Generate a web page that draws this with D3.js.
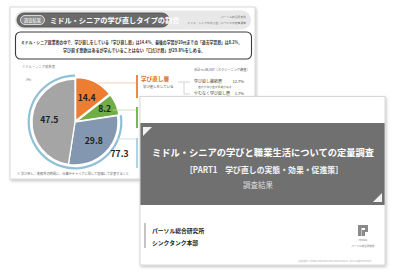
<!DOCTYPE html>
<html><head><meta charset="utf-8">
<script src="https://cdn.jsdelivr.net/npm/d3@7"></script>
<style>
html,body{margin:0;padding:0;background:#fff;}
svg{display:block;font-family:"Noto Sans CJK JP","Noto Sans",sans-serif;}
</style></head>
<body><svg id="c" width="396" height="276"></svg>
<script>
// ---- data ----
const categories = ["学び直し層", "過去学習層", "口だけ層", "非学習層"];
const values = [14.4, 8.2, 29.8, 47.5];
const ringCategories = ["口だけ層", "非学習層"];
const ringTotal = [77.3];
const subCategories = ["学び直し継続層", "やむなく学び直し層"];
const subValues = [12.7, 1.7];
const sampleNote = ["合計 n=36,537（スクリーニング調査）"];
const backTitle = ["ミドル・シニアの学び直しタイプの割合"];
const summaryLines = [
  "ミドル・シニア就業者の中で、学び直しをしている「学び直し層」は14.4%、最後の学習が20代までの「過去学習層」は8.2%。",
  "学び直す意欲はあるが学んでいることはない「口だけ層」が29.8%をしめる。"
];
const frontTitle = ["ミドル・シニアの学びと職業生活についての定量調査", "［PART1　学び直しの実態・効果・促進策］", "調査結果"];
const orgLines = ["パーソル総合研究所", "シンクタンク本部"];

const sliceColors = ["#ED7D31", "#70AD47", "#8497B0", "#A5A5A5"];

const svg = d3.select("#c");
const defs = svg.append("defs");
const f = defs.append("filter").attr("id","sh").attr("x","-10%").attr("y","-10%").attr("width","120%").attr("height","130%");
f.append("feDropShadow").attr("dx",1).attr("dy",1.5).attr("stdDeviation",1.5).attr("flood-color","#000").attr("flood-opacity",0.25);

// ---------- back slide ----------
const back = svg.append("g");
back.append("rect").attr("x",10).attr("y",7).attr("width",245).attr("height",172)
  .attr("fill","#fff").attr("stroke","#cfcfcf").attr("stroke-width",0.8).attr("filter","url(#sh)");

// header
back.append("rect").attr("x",15).attr("y",10.5).attr("width",236).attr("height",19).attr("rx",9.5).attr("fill","#e8e8e8");
back.append("rect").attr("x",17).attr("y",13).attr("width",152).attr("height",14).attr("rx",7).attr("fill","#6b6b6b").attr("stroke","#4a4a4a").attr("stroke-width",0.8);
back.append("rect").attr("x",20.5).attr("y",15.5).attr("width",24).attr("height",9).attr("rx",4.5).attr("fill","#8c8c8c").attr("stroke","#fff").attr("stroke-width",0.7);
back.append("text").attr("x",32.5).attr("y",22).attr("text-anchor","middle").attr("font-size",4.2).attr("fill","#fff").text("調査結果");
back.append("text").attr("x",50).attr("y",23).attr("font-size",7.2).attr("font-weight","bold").attr("fill","#fff").text(backTitle[0]);
back.append("text").attr("x",246).attr("y",18).attr("text-anchor","end").attr("font-size",2.8).attr("fill","#777").text("パーソル総合研究所");
back.append("text").attr("x",246).attr("y",23.5).attr("text-anchor","end").attr("font-size",2.8).attr("fill","#777").text("ミドル・シニアの学び直しについての定量調査");

// summary box
back.append("rect").attr("x",15.5).attr("y",32).attr("width",236).attr("height",27).attr("rx",5).attr("fill","#fff").attr("stroke","#3a3a3a").attr("stroke-width",1.1);
back.append("text").attr("x",21).attr("y",44).attr("font-size",4.2).attr("font-weight","bold").attr("fill","#333")
  .attr("textLength",221).attr("lengthAdjust","spacingAndGlyphs").text(summaryLines[0]);
back.append("text").attr("x",63).attr("y",52).attr("font-size",4.2).attr("font-weight","bold").attr("fill","#333")
  .attr("textLength",142).attr("lengthAdjust","spacingAndGlyphs").text(summaryLines[1]);

back.append("text").attr("x",22).attr("y",68).attr("font-size",3.3).attr("fill","#777").text("ミドル・シニア就業者");
back.append("text").attr("x",26).attr("y",81).attr("font-size",3.3).attr("fill","#666").text("(%)");

// pie
const cx = 75, cy = 122, R = 43;
const pie = d3.pie().sort(null).value(d => d)(values);
const arc = d3.arc().innerRadius(0).outerRadius(R);
const pg = back.append("g").attr("transform",`translate(${cx},${cy})`);
pg.selectAll("path.s").data(pie).join("path").attr("class","s")
  .attr("d",arc).attr("fill",(d,i)=>sliceColors[i]).attr("stroke","#fff").attr("stroke-width",1.3)
  .attr("transform",(d,i)=>{
    if(i<2){const a=(d.startAngle+d.endAngle)/2;return `translate(${Math.sin(a)*1.5},${-Math.cos(a)*1.5})`;}
    return null;});
// ring around two categories
const ringIdx = ringCategories.map(c=>categories.indexOf(c));
const ringArc = d3.arc().innerRadius(R+2.2).outerRadius(R+4.4)
  .startAngle(pie[ringIdx[0]].startAngle).endAngle(pie[ringIdx[ringIdx.length-1]].endAngle);
pg.append("path").attr("d",ringArc()).attr("fill","#8FC0D6");
// labels
const labR = [0.62, 0.75, 0.62, 0.6];
pg.selectAll("text.l").data(pie).join("text").attr("class","l")
  .attr("x",(d,i)=>d3.arc().innerRadius(R*labR[i]).outerRadius(R*labR[i]).centroid(d)[0])
  .attr("y",(d,i)=>d3.arc().innerRadius(R*labR[i]).outerRadius(R*labR[i]).centroid(d)[1]+3)
  .attr("text-anchor","middle").attr("font-size",8.6).attr("font-weight","bold").attr("fill","#222")
  .text(d=>d.data.toFixed(1));
const ringLabAngle = Math.PI*0.70;
pg.append("text").attr("x",Math.sin(ringLabAngle)*(R+12)).attr("y",-Math.cos(ringLabAngle)*(R+12)+3)
  .attr("text-anchor","middle").attr("font-size",8.6).attr("font-weight","bold").attr("fill","#222")
  .text(ringTotal[0].toFixed(1));

// brackets right of pie
const bx = 137;
const br = [
  {y:83, x0:98, top:75, bot:98, light:"#F6C7A6", col:"#ED7D31"},
  {y:110, x0:113, top:107, bot:128, light:"#BFDDAA", col:"#70AD47"},
  {y:139, x0:117, top:138, bot:168, light:"#C3DDE9", col:"#A9CEE0"}
];
br.forEach(b=>{
  back.append("line").attr("x1",b.x0).attr("x2",bx).attr("y1",b.y).attr("y2",b.y).attr("stroke",b.light).attr("stroke-width",0.8);
  back.append("line").attr("x1",bx).attr("x2",bx).attr("y1",b.top).attr("y2",b.bot).attr("stroke",b.col).attr("stroke-width",1.8);
});
back.append("text").attr("x",141).attr("y",81).attr("font-size",5.6).attr("font-weight","bold").attr("fill","#E36C1A").text(categories[0]);
back.append("text").attr("x",143).attr("y",88).attr("font-size",3.4).attr("fill","#444").text("学び直しをしている");

back.append("text").attr("x",194).attr("y",71).attr("font-size",3.2).attr("fill","#555").text(sampleNote[0]);
back.append("path").attr("d","M178,82H190M184,82V94H190").attr("fill","none").attr("stroke","#bbb").attr("stroke-width",0.6);
const subY = [83, 95];
subCategories.forEach((c,i)=>{
  back.append("text").attr("x",194).attr("y",subY[i]).attr("font-size",4).attr("fill","#444").text(c);
  back.append("text").attr("x",244).attr("y",subY[i]).attr("text-anchor","end").attr("font-size",4).attr("fill","#444").text(subValues[i].toFixed(1)+"%");
});
back.append("text").attr("x",198).attr("y",88).attr("font-size",2.8).attr("fill","#555").text("自分が学び直す意欲がある");

back.append("text").attr("x",17).attr("y",175).attr("font-size",3.2).attr("fill","#666").text("※ 学び直し：業務外の時間に、仕事やキャリアに関して勉強して学習すること");

// ---------- front slide ----------
const fr = svg.append("g");
fr.append("rect").attr("x",140).attr("y",96.5).attr("width",245).attr("height",168.5).attr("fill","#fff")
  .attr("stroke","#d0d0d0").attr("stroke-width",0.8).attr("filter","url(#sh)");
fr.append("rect").attr("x",140.4).attr("y",123).attr("width",244.2).attr("height",82).attr("fill","#707070");
fr.append("path").attr("d","M143,127H152L143,136Z").attr("fill","#f2f2f2");
fr.append("path").attr("d","M382,193V202H373Z").attr("fill","#f2f2f2");
fr.append("text").attr("x",263).attr("y",156).attr("text-anchor","middle").attr("font-size",9.6).attr("font-weight","bold").attr("fill","#fff")
  .attr("textLength",222).attr("lengthAdjust","spacingAndGlyphs").text(frontTitle[0]);
fr.append("text").attr("x",264).attr("y",173).attr("text-anchor","middle").attr("font-size",8.4).attr("font-weight","bold").attr("fill","#f4f4f4")
  .attr("textLength",158).attr("lengthAdjust","spacingAndGlyphs").text(frontTitle[1]);
fr.append("text").attr("x",258).attr("y",188).attr("text-anchor","middle").attr("font-size",7.5).attr("fill","#dcdcdc").text(frontTitle[2]);

fr.append("line").attr("x1",145).attr("x2",145).attr("y1",223).attr("y2",248).attr("stroke","#b5b5b5").attr("stroke-width",1.6);
fr.append("text").attr("x",152).attr("y",233).attr("font-size",5.8).attr("font-weight","bold").attr("fill","#222").text(orgLines[0]);
fr.append("text").attr("x",152).attr("y",245).attr("font-size",5.8).attr("font-weight","bold").attr("fill","#222").text(orgLines[1]);

// logo
const lg = fr.append("g").attr("fill","#8a8a8a");
lg.append("rect").attr("x",358).attr("y",225).attr("width",3.5).attr("height",11);
lg.append("rect").attr("x",358).attr("y",225).attr("width",10).attr("height",3);
lg.append("rect").attr("x",365).attr("y",225).attr("width",3).attr("height",7);
lg.append("rect").attr("x",362).attr("y",230).attr("width",3).attr("height",6);
fr.append("text").attr("x",363).attr("y",241).attr("text-anchor","middle").attr("font-size",2.4).attr("fill","#777").text("PERSOL");
fr.append("text").attr("x",363).attr("y",246.5).attr("text-anchor","middle").attr("font-size",2.6).attr("fill","#777").text("パーソル総合研究所");
fr.append("text").attr("x",335).attr("y",262).attr("text-anchor","middle").attr("font-size",2).attr("fill","#aaa").text("Copyright © PERSOL RESEARCH AND CONSULTING Co., Ltd. All Rights Reserved.");
</script></body></html>
